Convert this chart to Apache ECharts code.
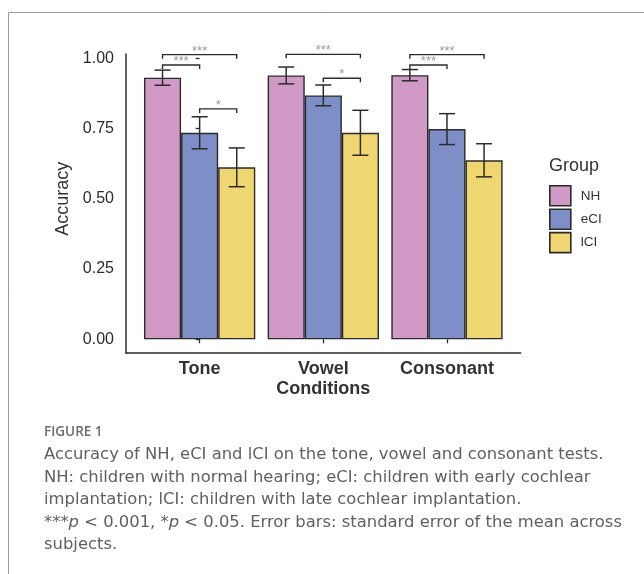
<!DOCTYPE html>
<html>
<head>
<meta charset="utf-8">
<script src="https://cdn.jsdelivr.net/npm/echarts@6/dist/echarts.min.js"></script>
<style>
  html, body { margin: 0; padding: 0; background: #fff; }
  #chart { width: 644px; height: 574px; }
</style>
</head>
<body>
<div id="chart"></div>
<script>
// ---- data ----
const categories = ['Tone', 'Vowel', 'Consonant'];
const groups = ['NH', 'eCI', 'lCI'];
const nhMean = [0.931, 0.939, 0.940];
const eciMean = [0.735, 0.868, 0.748];
const lciMean = [0.612, 0.735, 0.637];
const nhSE = [0.027, 0.030, 0.020];
const eciSE = [0.057, 0.037, 0.055];
const lciSE = [0.069, 0.080, 0.059];
const yTicks = [0, 0.25, 0.5, 0.75, 1.0];
// significance brackets
const sigCategory = [0, 0, 0, 1, 1, 2, 2];
const sigFrom = [0, 0, 1, 0, 1, 0, 0];
const sigTo = [2, 1, 2, 2, 2, 2, 1];
const sigHeight = [1.013, 0.976, 0.820, 1.014, 0.929, 1.013, 0.976];
const sigLabel = ['***', '***', '*', '***', '*', '***', '***'];
const captionTitle = 'FIGURE 1';
const captionLines = [
  'Accuracy of NH, eCI and lCI on the tone, vowel and consonant tests.',
  'NH: children with normal hearing; eCI: children with early cochlear',
  'implantation; lCI: children with late cochlear implantation.',
  '***{i|p} < 0.001, *{i|p} < 0.05. Error bars: standard error of the mean across',
  'subjects.'
];

// ---- styling ----
const colors = ['#D099C6', '#7E8FC8', '#F0D670'];
const dodge = [-0.3, 0, 0.3];
const means = [nhMean, eciMean, lciMean];
const ses = [nhSE, eciSE, lciSE];
const ink = '#2b2b2b';
const FONT = '"Liberation Sans", Arial, sans-serif';

const barSeries = groups.map((g, gi) => ({
  name: g,
  type: 'bar',
  xAxisIndex: 0,
  yAxisIndex: 0,
  barGap: '0%',
  barCategoryGap: '10%',
  data: means[gi],
  itemStyle: { color: colors[gi], borderColor: ink, borderWidth: 1.4 },
  emphasis: { disabled: true },
  z: 2
}));

const errData = [];
groups.forEach((g, gi) => {
  categories.forEach((c, ci) => {
    errData.push([ci + dodge[gi], means[gi][ci] - ses[gi][ci], means[gi][ci] + ses[gi][ci]]);
  });
});

const errSeries = {
  type: 'custom',
  xAxisIndex: 1,
  yAxisIndex: 0,
  data: errData,
  z: 5,
  silent: true,
  renderItem: function (params, api) {
    const x = api.value(0);
    const lo = api.coord([x, api.value(1)]);
    const hi = api.coord([x, api.value(2)]);
    const hw = 8;
    const st = { stroke: ink, lineWidth: 1.5 };
    return {
      type: 'group',
      children: [
        { type: 'line', shape: { x1: lo[0], y1: lo[1], x2: hi[0], y2: hi[1] }, style: st },
        { type: 'line', shape: { x1: lo[0] - hw, y1: lo[1], x2: lo[0] + hw, y2: lo[1] }, style: st },
        { type: 'line', shape: { x1: hi[0] - hw, y1: hi[1], x2: hi[0] + hw, y2: hi[1] }, style: st }
      ]
    };
  }
};

const sigData = sigCategory.map((c, i) => [c + dodge[sigFrom[i]], c + dodge[sigTo[i]], sigHeight[i], i]);
const sigSeries = {
  type: 'custom',
  xAxisIndex: 1,
  yAxisIndex: 0,
  data: sigData,
  clip: false,
  silent: true,
  z: 6,
  renderItem: function (params, api) {
    const p1 = api.coord([api.value(0), api.value(2)]);
    const p2 = api.coord([api.value(1), api.value(2)]);
    const tip = 4;
    return {
      type: 'group',
      children: [
        { type: 'polyline', shape: { points: [[p1[0], p1[1] + tip], p1, p2, [p2[0], p2[1] + tip]] },
          style: { stroke: ink, lineWidth: 1.4, fill: null } },
        { type: 'text', x: (p1[0] + p2[0]) / 2, y: p1[1] - 3.5,
          style: { text: sigLabel[api.value(3)], fill: '#999', font: '13px ' + FONT,
                   align: 'center', verticalAlign: 'middle' } }
      ]
    };
  }
};

const capFont = '"DejaVu Sans", "Open Sans", sans-serif';
const graphics = [
  { type: 'line', shape: { x1: 8.5, y1: 12.5, x2: 644, y2: 12.5 }, style: { stroke: '#9a9a9a', lineWidth: 1 } },
  { type: 'line', shape: { x1: 8.5, y1: 12.5, x2: 8.5, y2: 574 }, style: { stroke: '#9a9a9a', lineWidth: 1 } },
  { type: 'text', left: 549, top: 157, style: { text: 'Group', fill: '#333', font: '18px ' + FONT } },
  { type: 'text', x: 44, y: 432, style: { text: captionTitle, fill: '#6b6b6b', font: '600 13.5px "Open Sans", sans-serif', verticalAlign: 'middle' } }
];
const lineY = [455, 477.5, 500, 522.5, 545];
captionLines.forEach((t, i) => {
  graphics.push({
    type: 'text', x: 44, y: lineY[i],
    style: {
      text: t, fill: '#606060', font: '16.4px ' + capFont, verticalAlign: 'middle',
      rich: { i: { fontStyle: 'italic', fontSize: 16.4, fontFamily: capFont, fill: '#606060' } }
    }
  });
});

const option = {
  animation: false,
  backgroundColor: '#fff',
  textStyle: { fontFamily: FONT },
  grid: [
    { left: 137.8, right: 135.2, top: 58.3, bottom: 234.7 },
    { left: 126, right: 123.3, top: 54, bottom: 221 }
  ],
  xAxis: [
    {
      type: 'category', gridIndex: 0, data: categories, offset: 13.7,
      axisLine: { show: false },
      axisTick: { show: true, alignWithLabel: true, length: 4, lineStyle: { color: ink, width: 1.3 } },
      axisLabel: { fontSize: 18, fontWeight: 'bold', color: '#333', margin: 7 },
      name: 'Conditions', nameLocation: 'middle', nameGap: 27,
      nameTextStyle: { fontSize: 18, fontWeight: 'bold', color: '#333' }
    },
    { type: 'value', gridIndex: 0, min: -0.5, max: 2.5, show: false },
    {
      type: 'value', gridIndex: 1, min: 0, max: 1,
      axisLine: { show: true, lineStyle: { color: ink, width: 1.5 } },
      axisTick: { show: false }, axisLabel: { show: false }, splitLine: { show: false }
    }
  ],
  yAxis: [
    {
      type: 'value', gridIndex: 0, min: 0, max: 1, interval: 0.25, offset: 11.8,
      axisLine: { show: false },
      axisTick: { show: true, length: 4, lineStyle: { color: ink, width: 1.3 } },
      axisLabel: { fontSize: 16, color: '#2b2b2b', margin: 12, formatter: v => v.toFixed(2) },
      splitLine: { show: false },
      name: 'Accuracy', nameLocation: 'middle', nameRotate: 90, nameGap: 46,
      nameTextStyle: { fontSize: 18, color: '#333' }
    },
    {
      type: 'value', gridIndex: 1, min: 0, max: 1,
      axisLine: { show: true, lineStyle: { color: ink, width: 1.5 } },
      axisTick: { show: false }, axisLabel: { show: false }, splitLine: { show: false }
    }
  ],
  legend: {
    data: groups, orient: 'vertical', left: 549, top: 185, padding: 0,
    itemWidth: 21, itemHeight: 20, itemGap: 1.8, icon: 'rect',
    itemStyle: { borderWidth: 1.6, borderColor: ink },
    textStyle: { fontSize: 13.5, color: '#333', padding: [0, 0, 0, 5] },
    selectedMode: false
  },
  graphic: graphics,
  series: [...barSeries, errSeries, sigSeries]
};

const chart = echarts.init(document.getElementById('chart'), null, { renderer: 'canvas' });
chart.setOption(option);
</script>
</body>
</html>
